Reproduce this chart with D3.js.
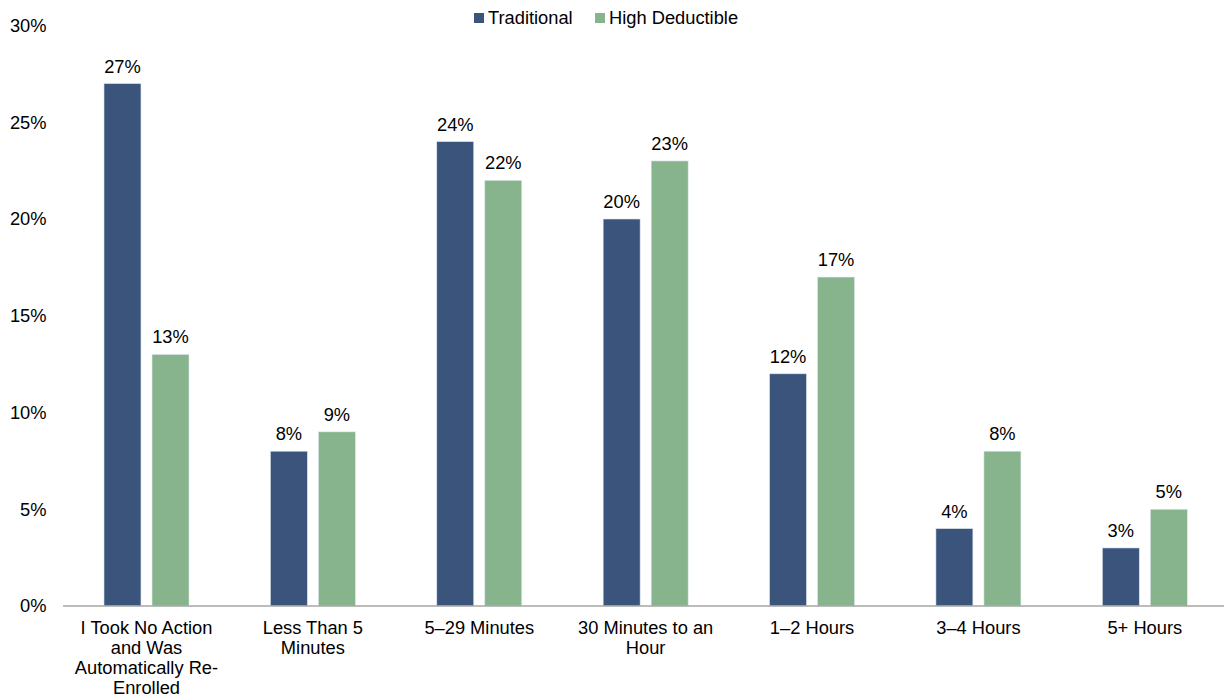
<!DOCTYPE html>
<html><head><meta charset="utf-8">
<script src="https://cdn.jsdelivr.net/npm/d3@7"></script>
<style>body{margin:0;background:#fff;}svg{display:block;font-family:"Liberation Sans",Arial,sans-serif;}</style>
</head><body>
<svg id="c" width="1224" height="700"></svg>
<script>
const categories = ["I Took No Action and Was Automatically Re-Enrolled","Less Than 5 Minutes","5–29 Minutes","30 Minutes to an Hour","1–2 Hours","3–4 Hours","5+ Hours"];
const categoryLines = [["I Took No Action","and Was","Automatically Re-","Enrolled"],["Less Than 5","Minutes"],["5–29 Minutes"],["30 Minutes to an","Hour"],["1–2 Hours"],["3–4 Hours"],["5+ Hours"]];
const traditional = [27, 8, 24, 20, 12, 4, 3];
const highDeductible = [13, 9, 22, 23, 17, 8, 5];
const seriesNames = ["Traditional","High Deductible"];
const colors = ["#3A547C","#87B48C"];
const yTicks = [0,5,10,15,20,25,30];
const FS = 18.3;

const svg = d3.select("#c");
const x0 = d3.scaleBand().domain(categories).range([63.3, 1228]).paddingInner(0).paddingOuter(0);
const y = d3.scaleLinear().domain([0,30]).range([606, 25.5]);
const x1 = d3.scaleBand().domain(seriesNames).range([-42.5, 42.5]).paddingInner(0.23);

// y axis labels
svg.append("g").selectAll("text").data(yTicks).join("text")
  .attr("x", 46.5).attr("y", d => y(d)).attr("dy", "0.35em")
  .attr("text-anchor", "end").attr("font-size", FS).attr("fill", "#000")
  .text(d => d + "%");

const data = categories.map((c,i) => ({c, vals:[traditional[i], highDeductible[i]]}));
const g = svg.append("g").selectAll("g").data(data).join("g")
  .attr("transform", d => `translate(${x0(d.c) + x0.bandwidth()/2},0)`);
g.selectAll("rect").data(d => d.vals.map((v,j)=>({v,s:seriesNames[j],j}))).join("rect")
  .attr("x", d => x1(d.s)).attr("width", x1.bandwidth())
  .attr("y", d => y(d.v)).attr("height", d => y(0) - y(d.v))
  .attr("fill", d => colors[d.j]).attr("stroke", "#dfe6ee").attr("stroke-width", 0.6);
g.selectAll("text.v").data(d => d.vals.map((v,j)=>({v,s:seriesNames[j],j}))).join("text")
  .attr("class","v").attr("x", d => x1(d.s) + x1.bandwidth()/2).attr("y", d => y(d.v) - 11)
  .attr("text-anchor","middle").attr("font-size",FS).attr("fill","#000")
  .text(d => d.v + "%");

// baseline
svg.append("line").attr("x1", 63).attr("x2", 1224).attr("y1", y(0)).attr("y2", y(0))
  .attr("stroke", "#a6a6a6").attr("stroke-width", 1.5);

// x labels
categories.forEach((c,i) => {
  const t = svg.append("text").attr("text-anchor","middle").attr("font-size",FS).attr("fill","#000");
  categoryLines[i].forEach((ln,k) => {
    t.append("tspan").attr("x", x0(c) + x0.bandwidth()/2).attr("y", 634 + k*20).text(ln);
  });
});

// legend
const leg = svg.append("g");
const legX = [474, 595];
seriesNames.forEach((s,i) => {
  leg.append("rect").attr("x", legX[i]).attr("y", 13).attr("width", 10).attr("height", 10).attr("fill", colors[i]);
  leg.append("text").attr("x", legX[i] + 14).attr("y", 18).attr("dy","0.35em").attr("font-size",FS).attr("fill","#000").text(s);
});
</script>
</body></html>
